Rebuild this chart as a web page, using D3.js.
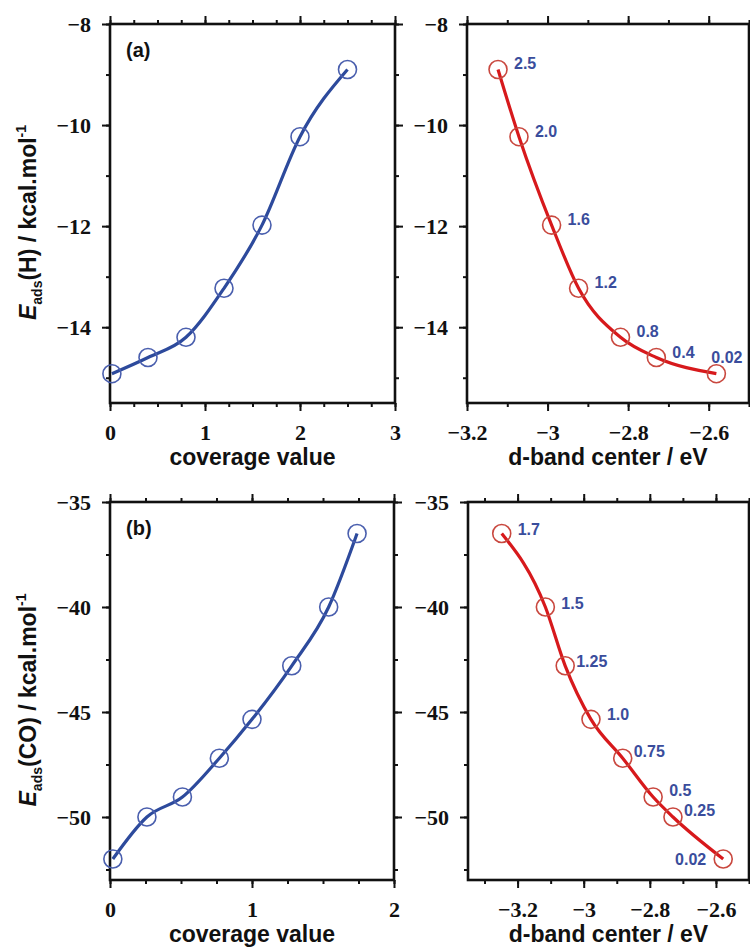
<!DOCTYPE html>
<html>
<head>
<meta charset="utf-8">
<script src="https://cdn.jsdelivr.net/npm/d3@7"></script>
<style>
  body { margin: 0; background: #fff; }
  svg { display: block; }
  .tick line { stroke: #111; stroke-width: 2; }
  .title { font-family: "Liberation Sans", Arial, sans-serif; font-weight: bold; font-size: 23px; fill: #111; }
  .tag { font-family: "Liberation Sans", Arial, sans-serif; font-weight: bold; font-size: 20px; fill: #111; }
  .ptlabel { font-family: "Liberation Sans", Arial, sans-serif; font-weight: bold; font-size: 16px; fill: #3a4d9c; }
</style>
</head>
<body>
<div id="chart"></div>
<script>
// (a) hydrogen adsorption
var coverageH = [0.02, 0.4, 0.8, 1.2, 1.6, 2.0, 2.5];
var eadsH = [-14.92, -14.6, -14.2, -13.23, -11.98, -10.23, -8.9];
var dbandH = [-2.581, -2.73, -2.819, -2.923, -2.99, -3.071, -3.123];
var labelsH = ["0.02", "0.4", "0.8", "1.2", "1.6", "2.0", "2.5"];

// (b) CO adsorption
var coverageCO = [0.02, 0.26, 0.51, 0.77, 1.0, 1.28, 1.54, 1.74];
var eadsCO = [-52.0, -50.0, -49.05, -47.2, -45.35, -42.8, -40.0, -36.5];
var dbandCO = [-2.578, -2.73, -2.79, -2.882, -2.978, -3.056, -3.116, -3.248];
var labelsCO = ["0.02", "0.25", "0.5", "0.75", "1.0", "1.25", "1.5", "1.7"];

// tick labels
var covTicksH = [0, 1, 2, 3];
var covTicksCO = [0, 1, 2];
var dbandTicks = [-3.2, -3, -2.8, -2.6];
var eTicksH = [-14, -12, -10, -8];
var eTicksCO = [-50, -45, -40, -35];

var blue = "#2d4a9c", red = "#d7191c";

var svg = d3.select("#chart").append("svg")
    .attr("width", 750)
    .attr("height", 947);

// label placement [dx, dy, anchor] per point, same order as the data
var offsH = [[-5, -17, "start"], [16, -6, "start"], [16, -6, "start"], [16, -6, "start"],
             [16, -6, "start"], [16, -6, "start"], [16, -6, "start"]];
var offsCO = [[-17, 0, "end"], [11, -7, "start"], [16, -7, "start"], [11, -7, "start"],
              [16, -5, "start"], [11, -5, "start"], [16, -4, "start"], [16, -5, "start"]];

var panels = [
    {x: coverageH, y: eadsH, xd: [0, 3], yd: [-15.5, -8], xr: [110, 395], yr: [403, 24],
     xt: covTicksH, xm: 0.25, yt: eTicksH, ym: 1, color: blue, ring: "#4a5fae", tag: "(a)",
     xTitle: "coverage value", species: "H"},
    {x: dbandH, y: eadsH, xd: [-3.2, -2.5], yd: [-15.5, -8], xr: [467, 749], yr: [403, 24],
     xt: dbandTicks, xm: 0.1, yt: eTicksH, ym: 1, color: red, ring: "#c9483f",
     labels: labelsH, offs: offsH, xTitle: "d-band center / eV"},
    {x: coverageCO, y: eadsCO, xd: [0, 2], yd: [-53, -35], xr: [110, 394], yr: [880, 502],
     xt: covTicksCO, xm: 0.25, yt: eTicksCO, ym: 2.5, color: blue, ring: "#4a5fae", tag: "(b)",
     xTitle: "coverage value", species: "CO"},
    {x: dbandCO, y: eadsCO, xd: [-3.35, -2.5], yd: [-53, -35], xr: [468, 749], yr: [880, 502],
     xt: dbandTicks, xm: 0.1, yt: eTicksCO, ym: 2.5, color: red, ring: "#c9483f",
     labels: labelsCO, offs: offsCO, xTitle: "d-band center / eV"}
];

var fmt = d3.format("");

function minorTicks(domain, step) {
    var out = [];
    var start = Math.ceil(domain[0] / step - 1e-9);
    for (var k = start; k * step <= domain[1] + 1e-9; k++) out.push(+(k * step).toFixed(4));
    return out;
}

panels.forEach(function(p) {
    var xs = d3.scaleLinear().domain(p.xd).range(p.xr);
    var ys = d3.scaleLinear().domain(p.yd).range(p.yr);
    var g = svg.append("g");

    var xMinor = minorTicks(p.xd, p.xm);
    var yMinor = minorTicks(p.yd, p.ym);

    // ticks on all four sides, pointing outward
    var sides = [
        {axis: d3.axisBottom, scale: xs, pos: "translate(0," + p.yr[0] + ")", major: p.xt, minor: xMinor, label: true},
        {axis: d3.axisTop, scale: xs, pos: "translate(0," + p.yr[1] + ")", major: p.xt, minor: xMinor, label: false},
        {axis: d3.axisLeft, scale: ys, pos: "translate(" + p.xr[0] + ",0)", major: p.yt, minor: yMinor, label: true},
        {axis: d3.axisRight, scale: ys, pos: "translate(" + p.xr[1] + ",0)", major: p.yt, minor: yMinor, label: false}
    ];
    sides.forEach(function(s) {
        g.append("g").attr("transform", s.pos)
            .call(s.axis(s.scale).tickValues(s.minor).tickSize(4).tickFormat(""))
            .select(".domain").remove();
        var a = g.append("g").attr("transform", s.pos)
            .call(s.axis(s.scale).tickValues(s.major).tickSize(8).tickPadding(s.axis === d3.axisBottom ? 13 : 11)
                .tickFormat(s.label ? fmt : ""));
        a.select(".domain").remove();
        a.selectAll("text")
            .style("font-family", "'Times New Roman', 'Liberation Serif', Times, serif")
            .style("font-size", "22px")
            .style("font-weight", "700")
            .attr("fill", "#111");
    });

    g.append("rect")
        .attr("x", p.xr[0]).attr("y", p.yr[1])
        .attr("width", p.xr[1] - p.xr[0]).attr("height", p.yr[0] - p.yr[1])
        .attr("fill", "none").attr("stroke", "#111").attr("stroke-width", 2.6);

    var pts = p.x.map(function(d, i) { return [d, p.y[i]]; });
    var ordered = pts.slice().sort(function(a, b) { return a[0] - b[0]; });

    var line = d3.line()
        .x(function(d) { return xs(d[0]); })
        .y(function(d) { return ys(d[1]); })
        .curve(d3.curveMonotoneX);

    g.append("path")
        .attr("d", line(ordered))
        .attr("fill", "none")
        .attr("stroke", p.color)
        .attr("stroke-width", 3.2)
        .attr("stroke-linejoin", "round");

    g.selectAll(".pt")
        .data(pts)
        .enter().append("circle")
        .attr("class", "pt")
        .attr("cx", function(d) { return xs(d[0]); })
        .attr("cy", function(d) { return ys(d[1]); })
        .attr("r", 9)
        .attr("fill", "none")
        .attr("stroke", p.ring)
        .attr("stroke-width", 1.6);

    if (p.labels) {
        g.selectAll(".ptlabel")
            .data(pts)
            .enter().append("text")
            .attr("class", "ptlabel")
            .attr("x", function(d, i) { return xs(d[0]) + p.offs[i][0]; })
            .attr("y", function(d, i) { return ys(d[1]) + p.offs[i][1] + 6; })
            .attr("text-anchor", function(d, i) { return p.offs[i][2]; })
            .text(function(d, i) { return p.labels[i]; });
    }

    if (p.tag) {
        g.append("text").attr("class", "tag")
            .attr("x", p.xr[0] + 16).attr("y", p.yr[1] + 33)
            .text(p.tag);
    }

    g.append("text").attr("class", "title")
        .attr("x", (p.xr[0] + p.xr[1]) / 2)
        .attr("y", p.yr[0] + 62)
        .attr("text-anchor", "middle")
        .text(p.xTitle);

    if (p.species) {
        var t = g.append("text").attr("class", "title")
            .attr("text-anchor", "middle")
            .attr("transform", "translate(36," + ((p.yr[0] + p.yr[1]) / 2 + 9) + ") rotate(-90)");
        t.append("tspan").attr("font-style", "italic").text("E");
        t.append("tspan").attr("font-size", "14px").attr("dy", 6).text("ads");
        t.append("tspan").attr("dy", -6).text("(" + p.species + ") / kcal.mol");
        t.append("tspan").attr("font-size", "14px").attr("dy", -10).text("-1");
    }
});
</script>
</body>
</html>
